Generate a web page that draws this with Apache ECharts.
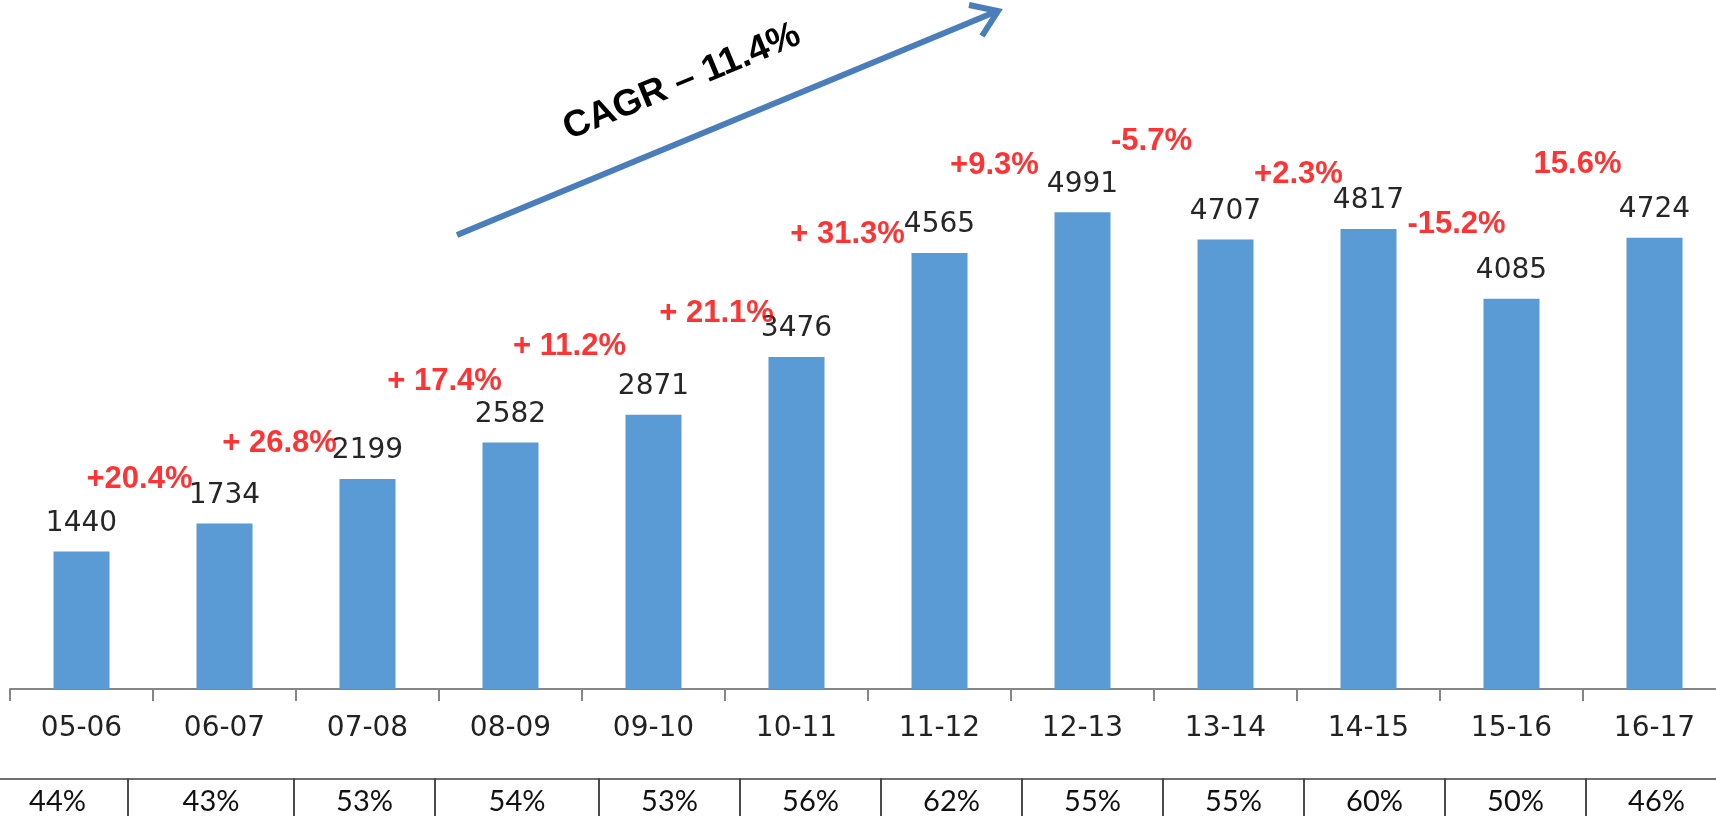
<!DOCTYPE html>
<html>
<head>
<meta charset="utf-8">
<script src="https://cdn.jsdelivr.net/npm/echarts@6/dist/echarts.min.js"></script>
<style>
html,body{margin:0;padding:0;background:#fff;}
#chart{width:1716px;height:816px;}
</style>
</head>
<body>
<div id="chart"></div>
<script>
// ---- data ----
const categories = ['05-06','06-07','07-08','08-09','09-10','10-11','11-12','12-13','13-14','14-15','15-16','16-17'];
const values = [1440,1734,2199,2582,2871,3476,4565,4991,4707,4817,4085,4724];
const growthLabels = ['','+20.4%','+ 26.8%','+ 17.4%','+ 11.2%','+ 21.1%','+ 31.3%','+9.3%','-5.7%','+2.3%','-15.2%','15.6%'];
const shareValues = [44,43,53,54,53,56,62,55,55,60,50,46];
const cagrLabel = 'CAGR \u2013 11.4%';

// ---- layout (positions only) ----
const growthOffsets = [null,[-85,-44],[-88,-36],[-66,-61],[-84,-68],[-80,-44],[-92,-19],[-88,-47],[-74,-98],[-70,-54],[-55,-74],[-77,-73]];
const cellEdges = [-13,128,294,435,599,740,881,1022,1163,1304,1445,1586,1727];

const chart = echarts.init(document.getElementById('chart'), null, {renderer:'canvas'});

const growthData = [];
for (let i = 1; i < values.length; i++) {
  growthData.push({
    value: [i, values[i]],
    label: { offset: growthOffsets[i], formatter: growthLabels[i] }
  });
}

const axisGray = '#868686';

const option = {
  animation: false,
  backgroundColor: '#ffffff',
  grid: [
    { left: 10, right: -10, top: 9, bottom: 127, outerBoundsMode: 'none', containLabel: false },
    { left: 0, right: 0, top: 779, height: 50, outerBoundsMode: 'none', containLabel: false }
  ],
  xAxis: [
    {
      gridIndex: 0, type: 'category', data: categories,
      axisLine: { show: true, lineStyle: { color: axisGray, width: 2 } },
      axisTick: { show: true, length: 12, lineStyle: { color: axisGray, width: 2 } },
      axisLabel: { color: '#222', fontFamily: 'DejaVu Sans', fontSize: 28, margin: 26, interval: 0 },
      splitLine: { show: false }
    },
    { gridIndex: 1, type: 'value', min: 0, max: 1716, show: false }
  ],
  yAxis: [
    { gridIndex: 0, type: 'value', min: 0, max: 7120, show: false, splitLine: { show: false } },
    { gridIndex: 1, type: 'value', min: 0, max: 1, show: false }
  ],
  series: [
    {
      type: 'bar', xAxisIndex: 0, yAxisIndex: 0,
      data: values, barWidth: 56,
      itemStyle: { color: '#5b9bd5' },
      label: { show: true, position: 'top', distance: 14, color: '#262626', fontFamily: 'DejaVu Sans', fontSize: 28 },
      emphasis: { disabled: true }, silent: true
    },
    {
      type: 'scatter', xAxisIndex: 0, yAxisIndex: 0,
      data: growthData, symbolSize: 1,
      itemStyle: { color: 'rgba(0,0,0,0)' },
      label: { show: true, position: 'inside', color: '#ff0000', fontFamily: 'Liberation Sans, Arial, sans-serif', fontWeight: 'bold', fontSize: 31 },
      emphasis: { disabled: true }, silent: true, z: 5
    },
    {
      type: 'custom', xAxisIndex: 1, yAxisIndex: 1, clip: false, silent: true,
      data: shareValues.map((v, i) => [i, v]),
      renderItem: function (params, api) {
        const i = api.value(0);
        const p0 = api.coord([cellEdges[i], 1]);
        const p1 = api.coord([cellEdges[i + 1], 0]);
        return {
          type: 'group',
          children: [
            { type: 'rect', shape: { x: p0[0], y: p0[1], width: p1[0] - p0[0], height: p1[1] - p0[1] },
              style: { fill: 'none', stroke: '#404040', lineWidth: 1.5 } },
            { type: 'text', x: (p0[0] + p1[0]) / 2, y: p0[1] + 23,
              style: { text: api.value(1) + '%', fill: '#111', fontFamily: 'Liberation Sans Narrow, Lato, sans-serif', fontSize: 29, align: 'center', verticalAlign: 'middle' } }
          ]
        };
      }
    }
  ],
  graphic: [
    { type: 'line', shape: { x1: 457, y1: 235, x2: 995, y2: 12 }, style: { stroke: '#4a7ebb', lineWidth: 6 }, silent: true },
    { type: 'polyline', shape: { points: [[969, 5], [998, 11], [982, 36]] }, style: { stroke: '#4a7ebb', lineWidth: 6, fill: 'none', lineJoin: 'miter' }, silent: true },
    { type: 'text', x: 682, y: 82, rotation: 22.5 * Math.PI / 180,
      style: { text: cagrLabel, fill: '#000', fontFamily: 'Liberation Sans, Arial, sans-serif', fontWeight: 'bold', fontSize: 37, align: 'center', verticalAlign: 'middle' }, silent: true }
  ]
};

chart.setOption(option);
</script>
</body>
</html>
